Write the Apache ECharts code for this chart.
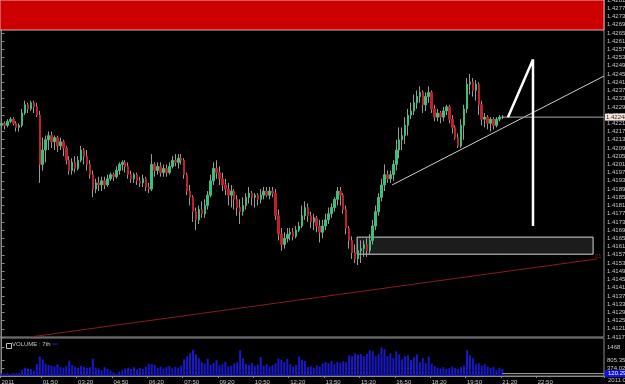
<!DOCTYPE html>
<html><head><meta charset="utf-8">
<script src="https://cdn.jsdelivr.net/npm/echarts@6/dist/echarts.min.js"></script>
<style>html,body{margin:0;padding:0;background:#000;overflow:hidden}#c{width:625px;height:384px}</style>
</head><body><div id="c"></div>
<script>
const openP = [1.4220,1.4221,1.4220,1.4222,1.4223,1.4221,1.4219,1.4220,1.4226,1.4230,
1.4228,1.4231,1.4229,1.4225,1.4201,1.4208,1.4213,1.4215,1.4212,1.4214,
1.4210,1.4212,1.4209,1.4203,1.4198,1.4202,1.4199,1.4203,1.4208,1.4205,
1.4201,1.4196,1.4189,1.4192,1.4191,1.4193,1.4191,1.4194,1.4196,1.4195,
1.4198,1.4201,1.4202,1.4200,1.4196,1.4194,1.4196,1.4193,1.4192,1.4194,
1.4190,1.4189,1.4201,1.4198,1.4200,1.4197,1.4199,1.4197,1.4200,1.4203,
1.4202,1.4204,1.4203,1.4196,1.4188,1.4185,1.4178,1.4174,1.4179,1.4177,
1.4181,1.4186,1.4193,1.4199,1.4197,1.4194,1.4191,1.4189,1.4186,1.4188,
1.4184,1.4180,1.4178,1.4181,1.4185,1.4187,1.4185,1.4186,1.4184,1.4186,
1.4188,1.4186,1.4188,1.4187,1.4176,1.4167,1.4162,1.4165,1.4167,1.4168,
1.4166,1.4169,1.4171,1.4176,1.4180,1.4176,1.4173,1.4175,1.4171,1.4168,
1.4171,1.4174,1.4177,1.4180,1.4184,1.4188,1.4186,1.4179,1.4170,1.4164,
1.4158,1.4155,1.4159,1.4160,1.4162,1.4159,1.4164,1.4171,1.4178,1.4185,
1.4191,1.4196,1.4194,1.4196,1.4201,1.4208,1.4213,1.4215,1.4220,1.4225,
1.4227,1.4231,1.4234,1.4236,1.4230,1.4234,1.4236,1.4228,1.4224,1.4226,
1.4224,1.4227,1.4229,1.4223,1.4219,1.4214,1.4210,1.4220,1.4228,1.4240,
1.4241,1.4237,1.4240,1.4230,1.4223,1.4224,1.4221,1.4223,1.4220,1.4223,
1.4224];
const closeP = [1.4221,1.4220,1.4222,1.4223,1.4221,1.4219,1.4220,1.4226,1.4230,1.4228,
1.4231,1.4229,1.4225,1.4201,1.4208,1.4213,1.4215,1.4212,1.4214,1.4210,
1.4212,1.4209,1.4203,1.4198,1.4202,1.4199,1.4203,1.4208,1.4205,1.4201,
1.4196,1.4189,1.4192,1.4191,1.4193,1.4191,1.4194,1.4196,1.4195,1.4198,
1.4201,1.4202,1.4200,1.4196,1.4194,1.4196,1.4193,1.4192,1.4194,1.4190,
1.4189,1.4201,1.4198,1.4200,1.4197,1.4199,1.4197,1.4200,1.4203,1.4202,
1.4204,1.4203,1.4196,1.4188,1.4185,1.4178,1.4174,1.4179,1.4177,1.4181,
1.4186,1.4193,1.4199,1.4197,1.4194,1.4191,1.4189,1.4186,1.4188,1.4184,
1.4180,1.4178,1.4181,1.4185,1.4187,1.4185,1.4186,1.4184,1.4186,1.4188,
1.4186,1.4188,1.4187,1.4176,1.4167,1.4162,1.4165,1.4167,1.4168,1.4166,
1.4169,1.4171,1.4176,1.4180,1.4176,1.4173,1.4175,1.4171,1.4168,1.4171,
1.4174,1.4177,1.4180,1.4184,1.4188,1.4186,1.4179,1.4170,1.4164,1.4158,
1.4155,1.4159,1.4160,1.4162,1.4159,1.4164,1.4171,1.4178,1.4185,1.4191,
1.4196,1.4194,1.4196,1.4201,1.4208,1.4213,1.4215,1.4220,1.4225,1.4227,
1.4231,1.4234,1.4236,1.4230,1.4234,1.4236,1.4228,1.4224,1.4226,1.4224,
1.4227,1.4229,1.4223,1.4219,1.4214,1.4210,1.4220,1.4228,1.4240,1.4241,
1.4237,1.4240,1.4230,1.4223,1.4224,1.4221,1.4223,1.4220,1.4223,1.4224,
1.4224];
const highP = [1.4223,1.4222,1.4223,1.4224,1.4224,1.4222,1.4221,1.4228,1.4232,1.4231,
1.4232,1.4232,1.4231,1.4227,1.4214,1.4215,1.4217,1.4217,1.4215,1.4215,
1.4214,1.4213,1.4210,1.4205,1.4204,1.4205,1.4205,1.4210,1.4209,1.4208,
1.4203,1.4198,1.4194,1.4195,1.4195,1.4195,1.4196,1.4197,1.4197,1.4200,
1.4202,1.4203,1.4203,1.4202,1.4198,1.4197,1.4197,1.4195,1.4196,1.4195,
1.4192,1.4206,1.4202,1.4202,1.4202,1.4201,1.4201,1.4202,1.4205,1.4206,
1.4206,1.4206,1.4204,1.4197,1.4191,1.4186,1.4180,1.4181,1.4183,1.4184,
1.4188,1.4196,1.4202,1.4203,1.4200,1.4197,1.4194,1.4192,1.4191,1.4189,
1.4186,1.4184,1.4185,1.4187,1.4190,1.4188,1.4187,1.4187,1.4189,1.4190,
1.4190,1.4190,1.4190,1.4189,1.4179,1.4170,1.4168,1.4170,1.4170,1.4170,
1.4171,1.4173,1.4181,1.4183,1.4182,1.4178,1.4177,1.4176,1.4174,1.4174,
1.4177,1.4180,1.4182,1.4185,1.4190,1.4190,1.4187,1.4181,1.4171,1.4166,
1.4162,1.4162,1.4164,1.4164,1.4165,1.4167,1.4174,1.4181,1.4187,1.4194,
1.4201,1.4198,1.4198,1.4203,1.4213,1.4219,1.4219,1.4224,1.4228,1.4231,
1.4235,1.4237,1.4239,1.4237,1.4236,1.4239,1.4237,1.4230,1.4228,1.4227,
1.4229,1.4230,1.4230,1.4225,1.4220,1.4216,1.4223,1.4230,1.4243,1.4245,
1.4243,1.4242,1.4241,1.4232,1.4226,1.4225,1.4224,1.4224,1.4224,1.4225,
1.4225];
const lowP = [1.4219,1.4218,1.4219,1.4221,1.4220,1.4217,1.4217,1.4219,1.4225,1.4226,
1.4227,1.4226,1.4224,1.4192,1.4198,1.4202,1.4208,1.4209,1.4208,1.4207,
1.4208,1.4205,1.4201,1.4196,1.4196,1.4197,1.4198,1.4202,1.4201,1.4198,
1.4194,1.4185,1.4187,1.4188,1.4188,1.4189,1.4190,1.4193,1.4193,1.4194,
1.4196,1.4198,1.4197,1.4194,1.4192,1.4192,1.4191,1.4190,1.4190,1.4188,
1.4187,1.4188,1.4195,1.4196,1.4195,1.4195,1.4195,1.4196,1.4199,1.4200,
1.4199,1.4201,1.4194,1.4186,1.4181,1.4173,1.4169,1.4172,1.4175,1.4175,
1.4179,1.4185,1.4191,1.4194,1.4191,1.4188,1.4186,1.4181,1.4180,1.4179,
1.4176,1.4172,1.4176,1.4179,1.4182,1.4181,1.4180,1.4181,1.4182,1.4184,
1.4185,1.4184,1.4185,1.4174,1.4164,1.4159,1.4160,1.4163,1.4164,1.4164,
1.4165,1.4168,1.4170,1.4174,1.4173,1.4170,1.4169,1.4168,1.4163,1.4165,
1.4169,1.4172,1.4175,1.4178,1.4181,1.4181,1.4177,1.4167,1.4160,1.4155,
1.4153,1.4152,1.4153,1.4156,1.4156,1.4157,1.4162,1.4169,1.4176,1.4183,
1.4188,1.4192,1.4192,1.4193,1.4198,1.4204,1.4208,1.4211,1.4215,1.4223,
1.4225,1.4228,1.4231,1.4226,1.4227,1.4231,1.4226,1.4222,1.4222,1.4221,
1.4222,1.4225,1.4221,1.4216,1.4213,1.4209,1.4209,1.4213,1.4226,1.4235,
1.4234,1.4232,1.4225,1.4220,1.4219,1.4218,1.4217,1.4218,1.4219,1.4222,
1.4223];
const volume = [130,120,140,110,150,130,160,300,420,380,350,280,600,980,850,620,560,
520,480,600,450,420,500,780,560,480,420,510,460,400,440,880,
420,380,300,450,360,280,180,120,220,300,380,420,350,440,320,400,360,
480,620,600,560,420,480,380,450,500,400,470,430,520,
850,1000,1150,1320,1100,900,700,620,870,560,650,800,540,600,720,480,520,640,700,1300,
900,620,560,650,500,580,960,520,600,480,550,640,880,820,700,860,600,480,560,
980,820,760,450,500,420,540,480,620,700,650,760,600,720,680,750,700,
1050,1000,1150,1080,1100,1000,1120,1300,1250,1000,1100,1450,1350,
1000,1150,900,1250,1100,850,1000,1050,800,950,1100,700,900,650,980,620,
500,420,380,450,360,400,480,420,350,460,520,1300,1050,900,600,650,520,600,480,
400,450,300,420,350];
const priceTicks = [1.4117,1.4121,1.4125,1.4129,1.4133,1.4137,1.4141,1.4145,1.4149,1.4153,1.4157,1.4161,1.4165,1.4169,1.4173,1.4177,1.4181,1.4185,1.4189,1.4193,1.4197,1.4201,1.4205,1.4209,1.4213,1.4217,1.4221,1.4225,1.4229,1.4233,1.4237,1.4241,1.4245,1.4249,1.4253,1.4257,1.4261,1.4265,1.4269,1.4273,1.4277,1.4281];
const volumeTicks = [374.02, 805.35, 1468];
const timeLabels = ['2011','01:50','03:20','04:50','06:20','07:50','09:20','10:50','12:20','13:50','15:20','16:50','18:20','19:50','21:20','22:50'];
const timeLabelIdx = [0,14,26,38,50,62,74,86,98,110,122,134,146,158,170,182,194];
const lastPrice = 1.4224, lastPriceText = '1.42248';
const lastVolume = 120.29;
// drawn objects (slot index, price)
const trendLine = [[132.6,1.4191],[204.5,1.4244]];
const arrowLine = [[171.9,1.4224],[180.4,1.4252],[180.4,1.4171]];
const redLine = [[9.7,1.4117],[202.2,1.4155]];
const boxX = [120.7,200.8], boxY = [1.41573,1.41656];
const bandY = [1.42664,1.4281];

const N = 205;
const cats = Array.from({length:N},(_, i)=>String(i));
const labelAt = {};
timeLabelIdx.forEach((k,j)=>{ if (timeLabels[j]) labelAt[k]=timeLabels[j]; });
const candles = openP.map((o,i)=>[o, closeP[i], lowP[i], highP[i]]);
const bodies = openP.map((o,i)=>[o, closeP[i], Math.min(o,closeP[i]), Math.max(o,closeP[i])]);
const lastIdx = openP.length - 1;
const txt = '#c8c8c8', axisCol = '#8c8c8c';
const font = 'Liberation Sans';

const chart = echarts.init(document.getElementById('c'), null, {renderer:'canvas'});
chart.setOption({
  animation:false,
  backgroundColor:'#000',
  textStyle:{fontFamily:font},
  grid:[
    {left:0, top:0, width:604, height:337, show:true, borderColor:axisCol, borderWidth:1, outerBoundsMode:'none'},
    {left:0, top:338, width:604, height:38, show:true, borderColor:axisCol, borderWidth:1, outerBoundsMode:'none'}
  ],
  xAxis:[
    {type:'category', gridIndex:0, data:cats, boundaryGap:true, axisLine:{show:false}, axisTick:{show:false}, axisLabel:{show:false}, splitLine:{show:false}},
    {type:'category', gridIndex:1, data:cats, boundaryGap:true,
      axisLine:{show:true, lineStyle:{color:axisCol}},
      axisTick:{show:true, interval:(i)=> (i in labelAt), length:2, lineStyle:{color:axisCol}},
      axisLabel:{interval:(i)=> (i in labelAt), formatter:(v,i)=>labelAt[i]||'', align:'left', color:txt, fontSize:6, margin:3, fontFamily:font}},
    {type:'value', gridIndex:0, min:-0.5, max:N-0.5, show:false},
    {type:'value', gridIndex:1, min:-0.5, max:N-0.5, show:false}
  ],
  yAxis:[
    {type:'value', gridIndex:0, position:'right', min:1.4117, max:1.4281, splitLine:{show:false},
      axisLine:{show:true, lineStyle:{color:axisCol}},
      axisTick:{show:true, customValues:priceTicks, length:3, lineStyle:{color:axisCol}},
      axisLabel:{customValues:priceTicks, formatter:v=>v.toFixed(4), color:txt, fontSize:6, margin:3, fontFamily:font}},
    {type:'value', gridIndex:1, position:'right', min:0, max:1924, splitLine:{show:false},
      axisLine:{show:true, lineStyle:{color:axisCol}},
      axisTick:{show:true, customValues:volumeTicks, length:3, lineStyle:{color:axisCol}},
      axisLabel:{customValues:volumeTicks, formatter:v=>String(v), color:txt, fontSize:6, margin:3, fontFamily:font}}
  ],
  series:[
    {type:'line', xAxisIndex:2, yAxisIndex:0, data:[], z:1, silent:true,
      markArea:{silent:true, data:[
        [{coord:[-0.5,bandY[0]], itemStyle:{color:'#cc0000', borderColor:'#d8b0b0', borderWidth:1}},{coord:[N-0.5,bandY[1]]}],
        [{coord:[boxX[0],boxY[0]], itemStyle:{color:'#1c1c1c', borderColor:'#d8d8d8', borderWidth:1}},{coord:[boxX[1],boxY[1]]}]
      ]}},
    {type:'candlestick', xAxisIndex:0, yAxisIndex:0, data:candles, barWidth:1, z:3, silent:true,
      itemStyle:{color:'#9a9a9a', color0:'#9a9a9a', borderColor:'#9a9a9a', borderColor0:'#9a9a9a', borderWidth:1}},
    {type:'candlestick', xAxisIndex:0, yAxisIndex:0, data:bodies, barWidth:2, z:4, silent:true,
      itemStyle:{color:'#3cbf7a', color0:'#c0202a', borderColor:'#3cbf7a', borderColor0:'#c0202a', borderWidth:1}},
    {type:'line', xAxisIndex:2, yAxisIndex:0, data:redLine, symbol:'none', z:5, silent:true, lineStyle:{color:'#8a1c1c', width:1}},
    {type:'line', xAxisIndex:2, yAxisIndex:0, data:trendLine, symbol:'none', z:5, silent:true, lineStyle:{color:'#cfcfcf', width:1}},
    {type:'line', xAxisIndex:2, yAxisIndex:0, data:arrowLine, symbol:'none', z:6, silent:true, lineStyle:{color:'#ffffff', width:2.5}},
    {type:'line', xAxisIndex:2, yAxisIndex:0, data:[[lastIdx,lastPrice],[N-0.5,lastPrice]], symbol:'none', z:5, silent:true,
      lineStyle:{color:'#a8a8a8', width:1},
      endLabel:{show:true, formatter:()=>lastPriceText, backgroundColor:'#f4e8e0', color:'#3a1010', fontSize:6, padding:[1,1,0,1], distance:1, fontFamily:font}},
    {type:'bar', xAxisIndex:1, yAxisIndex:1, data:volume, barWidth:2, itemStyle:{color:'#1818c8'}, silent:true},
    {type:'line', xAxisIndex:3, yAxisIndex:1, data:[[lastIdx,lastVolume],[N-0.5,lastVolume]], symbol:'none', z:5, silent:true,
      lineStyle:{color:'#a8a8a8', width:1},
      endLabel:{show:true, formatter:()=>lastVolume.toFixed(2), backgroundColor:'#1010e0', color:'#ffffff', fontSize:6, padding:[1,3,0,3], distance:1, fontFamily:font}}
  ],
  graphic:[
    {type:'rect', left:4, top:341, shape:{width:5, height:5}, style:{fill:'none', stroke:'#c0c0c0', lineWidth:1}, silent:true},
    {type:'text', left:12, top:341, style:{text:'VOLUME : 7th', fill:'#c8c8c8', fontSize:6, fontFamily:font}, silent:true},
    {type:'line', shape:{x1:52, y1:344, x2:58, y2:344}, style:{stroke:'#1818c8', lineWidth:1}, silent:true},
    {type:'text', left:608, top:377, style:{text:'2011.04.22', fill:'#c8c8c8', fontSize:6, fontFamily:font}, silent:true},
    {type:'text', left:595, top:254, style:{text:'C1', fill:'#a02020', fontSize:5, fontFamily:font}, silent:true}
  ]
});
</script></body></html>
